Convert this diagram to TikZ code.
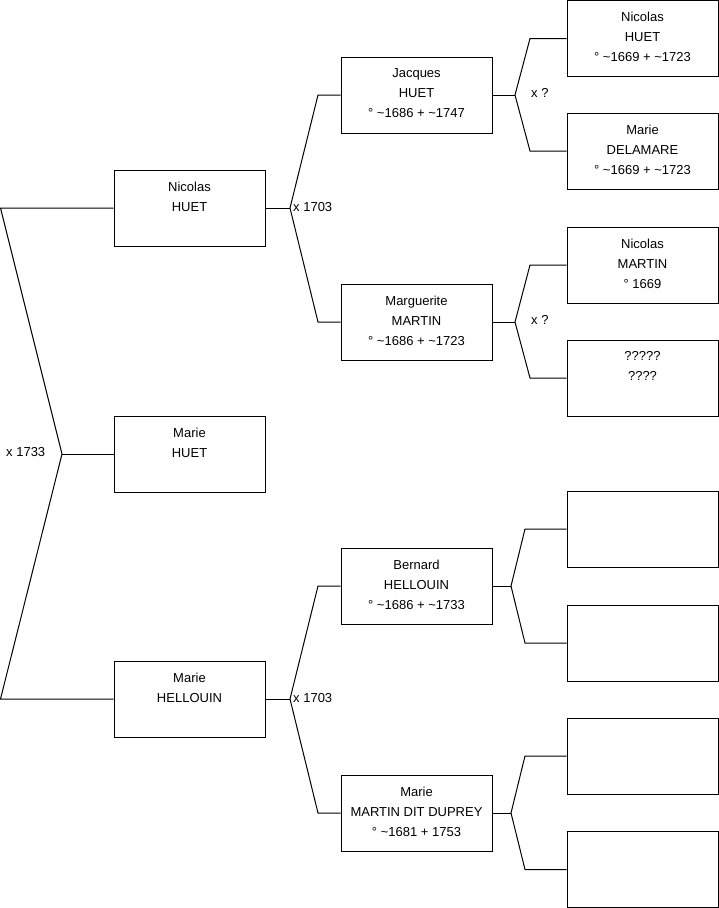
\documentclass[tikz,border=0pt]{standalone}
\usepackage{fontspec}
\setmainfont{Liberation Sans}
\begin{document}
\begin{tikzpicture}[x=1pt,y=-1pt,
  person/.style={draw=black,line width=1pt,rectangle,minimum width=151pt,minimum height=76pt,inner sep=0pt},
  txt/.style={anchor=north,align=center,inner sep=0pt,font=\fontsize{13pt}{20pt}\selectfont,yshift=-12pt},
  marr/.style={font=\fontsize{13pt}{15pt}\selectfont,inner sep=0pt},
  link/.style={draw=black,line width=1pt}]
\useasboundingbox (0,0) rectangle (719,908);
% generation 1
\node[person] (n1) at (189.5,208) {};
\node[person] (n2) at (189.5,454) {};
\node[person] (n3) at (189.5,699) {};
\node[txt] at (n1.north) {Nicolas\\HUET};
\node[txt] at (n2.north) {Marie\\HUET};
\node[txt] at (n3.north) {Marie\\HELLOUIN};
% generation 2
\node[person] (g2a) at (416.5,95) {};
\node[person] (g2b) at (416.5,322) {};
\node[person] (g2c) at (416.5,586) {};
\node[person] (g2d) at (416.5,813) {};
\node[txt] at (g2a.north) {Jacques\\HUET\\° \textasciitilde1686 + \textasciitilde1747};
\node[txt] at (g2b.north) {Marguerite\\MARTIN\\° \textasciitilde1686 + \textasciitilde1723};
\node[txt] at (g2c.north) {Bernard\\HELLOUIN\\° \textasciitilde1686 + \textasciitilde1733};
\node[txt] at (g2d.north) {Marie\\MARTIN DIT DUPREY\\° \textasciitilde1681 + 1753};
% generation 3
\node[person] (g3a) at (642.5,38.5) {};
\node[person] (g3b) at (642.5,151) {};
\node[person] (g3c) at (642.5,265) {};
\node[person] (g3d) at (642.5,378) {};
\node[person] (g3e) at (642.5,529) {};
\node[person] (g3f) at (642.5,643) {};
\node[person] (g3g) at (642.5,756) {};
\node[person] (g3h) at (642.5,869.5) {};
\node[txt] at (g3a.north) {Nicolas\\HUET\\° \textasciitilde1669 + \textasciitilde1723};
\node[txt] at (g3b.north) {Marie\\DELAMARE\\° \textasciitilde1669 + \textasciitilde1723};
\node[txt] at (g3c.north) {Nicolas\\MARTIN\\° 1669};
\node[txt] at (g3d.north) {?????\\????};
% junctions
\coordinate (l1) at (0.5,208);
\coordinate (j0) at (62,454);
\coordinate (l3) at (0.5,699);
\coordinate (j1) at (290,208);
\coordinate (c1a) at (318,95);
\coordinate (c1b) at (318,322);
\coordinate (j2) at (290,699);
\coordinate (c2a) at (318,586);
\coordinate (c2b) at (318,813);
\coordinate (ka) at (515,95);
\coordinate (ka1) at (530,38.5);
\coordinate (ka2) at (530,151);
\coordinate (kb) at (515,322);
\coordinate (kb1) at (530,265);
\coordinate (kb2) at (530,378);
\coordinate (kc) at (511,586);
\coordinate (kc1) at (525,529);
\coordinate (kc2) at (525,643);
\coordinate (kd) at (511,813);
\coordinate (kd1) at (525,756);
\coordinate (kd2) at (525,869.5);
% connectors
\draw[link] (n1.west) -- (l1) -- (j0) -- (l3) -- (n3.west);
\draw[link] (j0) -- (n2.west);
\draw[link] (n1.east) -- (j1);
\draw[link] (g2a.west) -- (c1a) -- (j1) -- (c1b) -- (g2b.west);
\draw[link] (n3.east) -- (j2);
\draw[link] (g2c.west) -- (c2a) -- (j2) -- (c2b) -- (g2d.west);
\draw[link] (g2a.east) -- (ka);
\draw[link] (g3a.west) -- (ka1) -- (ka) -- (ka2) -- (g3b.west);
\draw[link] (g2b.east) -- (kb);
\draw[link] (g3c.west) -- (kb1) -- (kb) -- (kb2) -- (g3d.west);
\draw[link] (g2c.east) -- (kc);
\draw[link] (g3e.west) -- (kc1) -- (kc) -- (kc2) -- (g3f.west);
\draw[link] (g2d.east) -- (kd);
\draw[link] (g3g.west) -- (kd1) -- (kd) -- (kd2) -- (g3h.west);
% marriage labels
\node[marr,anchor=west] (m0) at (6,452) {x 1733};
\node[marr,anchor=west] (m1) at (293,207) {x 1703};
\node[marr,anchor=west] (m2) at (293,698) {x 1703};
\node[marr,anchor=west] (m3) at (531,93) {x ?};
\node[marr,anchor=west] (m4) at (531,320) {x ?};
\end{tikzpicture}
\end{document}
